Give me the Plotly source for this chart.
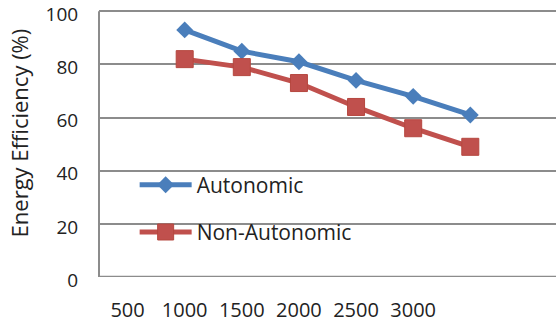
import plotly.graph_objects as go

# Category axis: labelled sizes plus two trailing unlabelled slots
categories = ["500", "1000", "1500", "2000", "2500", "3000", " ", "  "]
point_cats = ["1000", "1500", "2000", "2500", "3000", " "]
autonomic = [93, 85, 81, 74, 68, 61]
non_autonomic = [82, 79, 73, 64, 56, 49]
y_ticks = [0, 20, 40, 60, 80, 100]

FONT = "Open Sans"
GRID = "#8c8c8c"

fig = go.Figure()
fig.add_trace(go.Scatter(
    x=point_cats, y=autonomic, name="Autonomic", mode="lines+markers",
    legendgroup="a",
    line=dict(color="#4A7EBB", width=5),
    marker=dict(symbol="diamond", size=13, color="#4A7EBB"),
))
fig.add_trace(go.Scatter(
    x=point_cats, y=non_autonomic, name="Non-Autonomic", mode="lines+markers",
    legendgroup="b",
    line=dict(color="#C0504D", width=5),
    marker=dict(symbol="square", size=17, color="#C0504D",
                line=dict(color="#B5473F", width=1)),
))

fig.update_layout(
    width=557, height=326,
    margin=dict(l=99, r=1, t=6, b=49, autoexpand=False),
    paper_bgcolor="white", plot_bgcolor="white",
    font=dict(family=FONT, size=18, color="#222222"),
    showlegend=True,
    legend=dict(
        x=0.078, y=0.415, xanchor="left", yanchor="top",
        bgcolor="rgba(0,0,0,0)", traceorder="grouped",
        tracegroupgap=17, itemwidth=52,
        font=dict(size=21, family=FONT),
    ),
    xaxis=dict(
        type="category", categoryorder="array", categoryarray=categories,
        range=[-0.5, len(categories) - 0.5],
        showgrid=False, zeroline=False, showline=False,
        ticks="outside", ticklen=15, tickcolor="rgba(0,0,0,0)",
        tickfont=dict(size=20, family=FONT),
    ),
    yaxis=dict(
        range=[0, 102], tickmode="array", tickvals=y_ticks,
        showgrid=True, gridcolor=GRID, gridwidth=1.5,
        zeroline=False, showline=False, automargin=False,
        ticks="outside", ticklen=16, tickcolor="rgba(0,0,0,0)",
        ticklabeloverflow="allow", ticklabelshift=3,
        tickfont=dict(size=19, family=FONT),
    ),
    annotations=[dict(
        text="Energy Efficiency (%)", textangle=-90,
        xref="paper", yref="paper", x=-0.175, y=0.53,
        xanchor="center", yanchor="middle", showarrow=False,
        font=dict(size=22, family=FONT),
    )],
)
# Left axis line from 0 to 100 and a heavier baseline
fig.add_shape(type="line", xref="paper", yref="y", x0=0, x1=0, y0=0, y1=100,
              line=dict(color=GRID, width=2))
fig.add_hline(y=0, line=dict(color=GRID, width=2.5))

fig.write_html("out.html")
